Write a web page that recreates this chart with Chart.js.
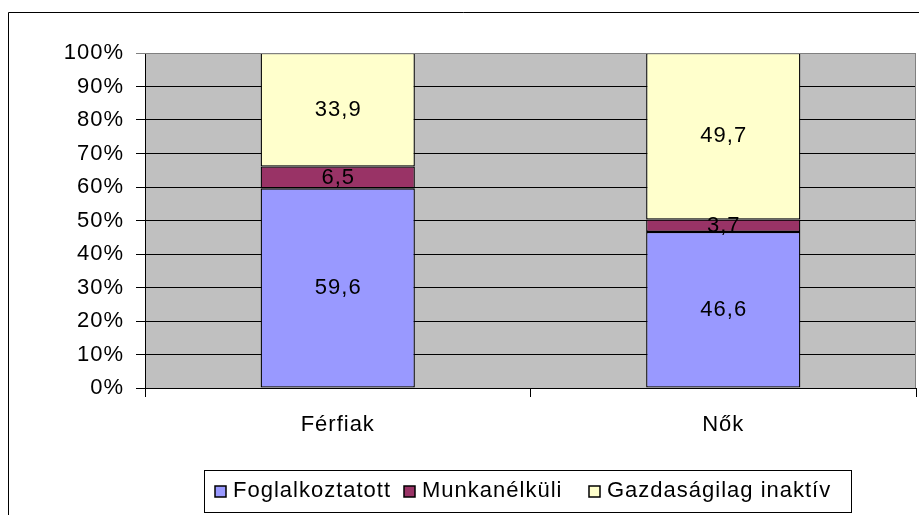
<!DOCTYPE html>
<html>
<head>
<meta charset="utf-8">
<script src="https://cdn.jsdelivr.net/npm/chart.js@4"></script>
<style>
  html, body { margin: 0; padding: 0; background: #fff; }
  #wrap { width: 919px; height: 515px; }
</style>
</head>
<body>
<div id="wrap"><canvas id="chart" width="919" height="515"></canvas></div>
<script>
// data (percent of each group)
const categories = ["Férfiak", "Nők"];
const seriesNames = ["Foglalkoztatott", "Munkanélküli", "Gazdaságilag inaktív"];
const employed = [59.6, 46.6];
const unemployed = [6.5, 3.7];
const inactive = [33.9, 49.7];
const yTicks = [0, 10, 20, 30, 40, 50, 60, 70, 80, 90, 100];

const seriesColors = ["#9999FF", "#993366", "#FFFFCC"];
const FONT = '"Liberation Sans", Arial, sans-serif';
const FSIZE = 22;

// grey plot area, outer frame, letter spacing
const frame = {
    id: "frame",
    beforeDraw(chart) {
        const { ctx, chartArea: a } = chart;
        ctx.letterSpacing = "1px";
        ctx.save();
        ctx.fillStyle = "#C0C0C0";
        ctx.fillRect(a.left, a.top, a.right - a.left, a.bottom - a.top);
        ctx.strokeStyle = "#000";
        ctx.lineWidth = 1;
        ctx.beginPath();
        ctx.moveTo(8.5, 515);
        ctx.lineTo(8.5, 12.5);
        ctx.lineTo(919, 12.5);
        ctx.stroke();
        ctx.restore();
    },
    afterDatasetsDraw(chart) {
        const { ctx, chartArea: a } = chart;
        ctx.save();
        ctx.strokeStyle = "#808080";
        ctx.lineWidth = 1;
        ctx.beginPath();
        ctx.moveTo(a.left, a.top + 0.5);
        ctx.lineTo(a.right - 0.5, a.top + 0.5);
        ctx.lineTo(a.right - 0.5, a.bottom);
        ctx.stroke();
        ctx.restore();
    },
};

// value labels in the middle of each segment
const segLabels = {
    id: "segLabels",
    afterDatasetsDraw(chart) {
        const { ctx } = chart;
        ctx.save();
        ctx.font = FSIZE + "px " + FONT;
        ctx.fillStyle = "#000";
        ctx.textAlign = "center";
        ctx.textBaseline = "middle";
        chart.data.datasets.forEach((ds, di) => {
            chart.getDatasetMeta(di).data.forEach((bar, i) => {
                const txt = ds.data[i].toFixed(1).replace(".", ",");
                const y = (bar.y + bar.base) / 2;
                ctx.fillText(txt, bar.x + 0.5, y);
            });
        });
        ctx.restore();
    },
};

// boxed legend at the bottom
const boxLegend = {
    id: "boxLegend",
    afterDraw(chart) {
        const { ctx } = chart;
        const itemX = [215, 404, 589];
        ctx.save();
        ctx.fillStyle = "#fff";
        ctx.fillRect(204, 470, 648, 43);
        ctx.strokeStyle = "#000";
        ctx.lineWidth = 1;
        ctx.strokeRect(204.5, 470.5, 647, 42);
        ctx.font = FSIZE + "px " + FONT;
        ctx.textBaseline = "alphabetic";
        ctx.textAlign = "left";
        chart.data.datasets.forEach((ds, i) => {
            const x = itemX[i];
            ctx.fillStyle = ds.backgroundColor;
            ctx.fillRect(x, 486, 11, 11);
            ctx.strokeStyle = "#000";
            ctx.lineWidth = 1.5;
            ctx.strokeRect(x, 486, 11, 11);
            ctx.fillStyle = "#000";
            ctx.fillText(ds.label, x + 18, 497);
        });
        ctx.restore();
    },
};

const datasets = [employed, unemployed, inactive].map((vals, i) => ({
    label: seriesNames[i],
    data: vals,
    backgroundColor: seriesColors[i],
    borderColor: "#000",
    borderWidth: 1.3,
    borderSkipped: false,
    barPercentage: 0.4,
    categoryPercentage: 1.0,
}));

new Chart(document.getElementById("chart"), {
    type: "bar",
    data: { labels: categories, datasets },
    options: {
        responsive: false,
        animation: false,
        layout: { padding: { left: 0, top: 53, right: 3, bottom: 0 } },
        plugins: {
            legend: { display: false },
            tooltip: { enabled: false },
        },
        scales: {
            x: {
                stacked: true,
                offset: true,
                afterFit: (s) => { s.height = 127; },
                grid: {
                    offset: true,
                    drawOnChartArea: false,
                    color: "#000",
                    tickLength: 9,
                },
                border: { display: true, color: "#000", width: 1 },
                ticks: {
                    color: "#000",
                    padding: 15,
                    font: { family: FONT, size: FSIZE },
                },
            },
            y: {
                stacked: true,
                min: 0,
                max: 100,
                afterFit: (s) => { s.width = 145; },
                afterBuildTicks: (s) => { s.ticks = yTicks.map((v) => ({ value: v })); },
                grid: {
                    color: (c) => (c.tick && c.tick.value === 100 ? "#808080" : "#000"),
                    tickLength: 9,
                },
                border: { display: true, color: "#000", width: 1 },
                ticks: {
                    color: "#000",
                    padding: 12,
                    font: { family: FONT, size: FSIZE },
                    callback: (v) => v + "%",
                },
            },
        },
    },
    plugins: [frame, segLabels, boxLegend],
});
</script>
</body>
</html>
